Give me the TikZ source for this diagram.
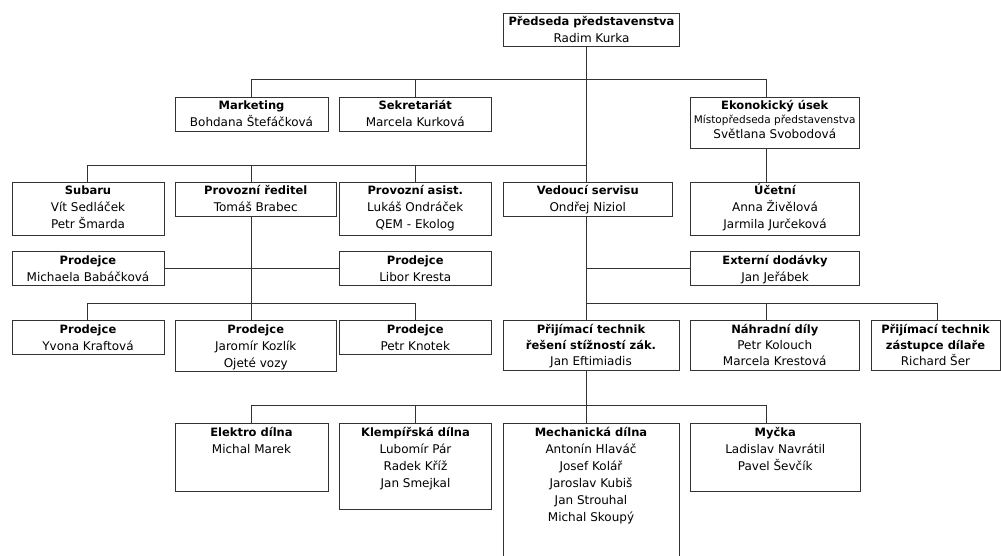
\documentclass[tikz,border=0pt]{standalone}
\usepackage{fontspec}
\setmainfont{DejaVu Sans}
\newcommand\ttl[1]{{\fontsize{11.5}{17}\selectfont\bfseries #1}}
\newcommand\cell[1]{\begin{tabular}[t]{@{}c@{}}#1\end{tabular}}
\newcommand\ob[7]{%
  \node[box, minimum width={#4-#2}, minimum height={#5-#3}] (#1) at (#2,#3) {};
  \node[txt] (#1t) at ([yshift=-#6pt]#1.north) {\cell{#7}};
}
\begin{document}
\begin{tikzpicture}[x=1pt,y=-1pt,
  box/.style={draw=black!80, line width=1pt, fill=white, inner sep=0pt, anchor=north west},
  txt/.style={inner sep=0pt, anchor=base, font=\fontsize{12}{17}\selectfont},
  con/.style={draw=black!80, line width=1pt}]
\clip (0,0) rectangle (1001,556);
\fill[white] (0,0) rectangle (1001,556);

\coordinate (xa) at (87.5,0);
\coordinate (xb) at (251,0);
\coordinate (xc) at (415,0);
\coordinate (xm) at (586.5,0);
\coordinate (xe) at (766,0);
\coordinate (xf) at (937,0);
\coordinate (ya) at (0,80);
\coordinate (yb) at (0,166);
\coordinate (yd) at (0,303);
\coordinate (ye) at (0,405.5);

\ob{pres}{503}{13}{679}{46}{12.5}{\ttl{Předseda představenstva}\\Radim Kurka}
\ob{mkt}{174.5}{97.5}{327.5}{131.5}{12.5}{\ttl{Marketing}\\Bohdana Štefáčková}
\ob{sek}{338.5}{97.5}{491}{131.5}{12.5}{\ttl{Sekretariát}\\Marcela Kurková}
\ob{eko}{690}{97.5}{858.5}{148.5}{12.5}{\ttl{Ekonokický úsek}\\[-3pt]{\fontsize{10.5}{12}\selectfont Místopředseda představenstva}\\[-2pt]Světlana Svobodová}
\ob{sub}{11.5}{182.5}{163.5}{234.5}{12.5}{\ttl{Subaru}\\Vít Sedláček\\Petr Šmarda}
\ob{prv}{174.5}{182.5}{336}{216.5}{12.5}{\ttl{Provozní ředitel}\\Tomáš Brabec}
\ob{asi}{338.5}{182.5}{491}{234.5}{12.5}{\ttl{Provozní asist.}\\Lukáš Ondráček\\QEM - Ekolog}
\ob{ved}{502.5}{182.5}{672}{216.5}{12.5}{\ttl{Vedoucí servisu}\\Ondřej Niziol}
\ob{uce}{690}{182.5}{859}{234.5}{12.5}{\ttl{Účetní}\\Anna Živělová\\Jarmila Jurčeková}
\ob{pda}{11.5}{251}{163.5}{285}{13.3}{\ttl{Prodejce}\\Michaela Babáčková}
\ob{pdb}{338.5}{251}{491}{285}{13.3}{\ttl{Prodejce}\\Libor Kresta}
\ob{ext}{690}{251}{859}{285}{13.3}{\ttl{Externí dodávky}\\Jan Jeřábek}
\ob{pdc}{11.5}{320}{163.5}{353.5}{13.5}{\ttl{Prodejce}\\Yvona Kraftová}
\ob{pdd}{174.5}{320}{336}{371}{13.5}{\ttl{Prodejce}\\Jaromír Kozlík\\Ojeté vozy}
\ob{pde}{338.5}{319.5}{491}{354}{13.5}{\ttl{Prodejce}\\Petr Knotek}
\ob{pta}{502.5}{319.5}{678.5}{369.5}{13.5}{\ttl{Přijímací technik}\\[-1pt]\ttl{řešení stížností zák.}\\[-1pt]Jan Eftimiadis}
\ob{nd}{689.5}{319.5}{859}{369.5}{13.5}{\ttl{Náhradní díly}\\[-1pt]Petr Kolouch\\[-1pt]Marcela Krestová}
\ob{ptb}{870.5}{319.5}{999.5}{369.5}{13.5}{\ttl{Přijímací technik}\\[-1pt]\ttl{zástupce dílaře}\\[-1pt]Richard Šer}
\ob{ele}{174.5}{422.5}{327.5}{491}{13.5}{\ttl{Elektro dílna}\\Michal Marek}
\ob{kle}{339}{422.5}{491}{508.5}{13.5}{\ttl{Klempířská dílna}\\Lubomír Pár\\Radek Kříž\\Jan Smejkal}
\ob{mec}{502.5}{422.5}{678.5}{600}{13.5}{\ttl{Mechanická dílna}\\Antonín Hlaváč\\Josef Kolář\\Jaroslav Kubiš\\Jan Strouhal\\Michal Skoupý}
\ob{myc}{690}{422.5}{859.5}{491}{13.5}{\ttl{Myčka}\\Ladislav Navrátil\\Pavel Ševčík}

% connectors
\draw[con] (pres.south -| xm) -- (ved.north -| xm);
\draw[con] (mkt.north -| xb) -- (xb |- ya) -- (xe |- ya) -- (eko.north -| xe);
\draw[con] (sek.north -| xc) -- (xc |- ya);
\draw[con] (eko.south -| xe) -- (uce.north -| xe);
\draw[con] (sub.north -| xa) -- (xa |- yb) -- (xm |- yb);
\draw[con] (prv.north -| xb) -- (xb |- yb);
\draw[con] (asi.north -| xc) -- (xc |- yb);
\draw[con] (prv.south -| xb) -- (pdd.north -| xb);
\draw[con] (pda.east) -- (pdb.west);
\draw[con] (pdc.north -| xa) -- (xa |- yd) -- (xc |- yd) -- (pde.north -| xc);
\draw[con] (ved.south -| xm) -- (pta.north -| xm);
\draw[con] (xm |- ext.west) -- (ext.west);
\draw[con] (xm |- yd) -- (xf |- yd) -- (ptb.north -| xf);
\draw[con] (xe |- yd) -- (nd.north -| xe);
\draw[con] (pta.south -| xm) -- (mec.north -| xm);
\draw[con] (ele.north -| xb) -- (xb |- ye) -- (xe |- ye) -- (myc.north -| xe);
\draw[con] (kle.north -| xc) -- (xc |- ye);
\end{tikzpicture}
\end{document}
